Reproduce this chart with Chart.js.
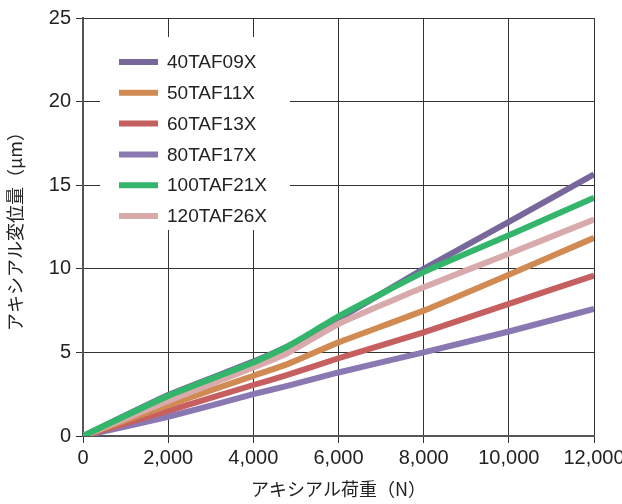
<!DOCTYPE html>
<html>
<head>
<meta charset="utf-8">
<script src="https://cdn.jsdelivr.net/npm/chart.js@4/dist/chart.umd.min.js"></script>
<style>
  html, body { margin: 0; padding: 0; background: #fff; }
  canvas { display: block; }
</style>
</head>
<body>
<canvas id="chart" width="622" height="504"></canvas>
<script>
// axial load (N)
const loads = [0, 2000, 4000, 4800, 6000, 8000, 10000, 12000];
// axial displacement (um) per bearing
const s40TAF09X = [0, 2.45, 4.45, 5.35, 7.0, 10.0, 12.8, 15.65];
const s50TAF11X = [0, 1.85, 3.6, 4.3, 5.6, 7.5, 9.65, 11.85];
const s60TAF13X = [0, 1.5, 3.05, 3.65, 4.65, 6.2, 7.9, 9.6];
const s80TAF17X = [0, 1.15, 2.5, 3.0, 3.8, 5.0, 6.25, 7.6];
const s100TAF21X = [0, 2.4, 4.4, 5.35, 7.15, 9.8, 12.0, 14.25];
const s120TAF26X = [0, 2.1, 4.1, 4.95, 6.7, 8.9, 10.9, 12.95];

const seriesNames = ['40TAF09X', '50TAF11X', '60TAF13X', '80TAF17X', '100TAF21X', '120TAF26X'];
const seriesValues = [s40TAF09X, s50TAF11X, s60TAF13X, s80TAF17X, s100TAF21X, s120TAF26X];
const seriesColors = ['#77679b', '#d18a52', '#c66060', '#8a78b2', '#33b66b', '#d9aaab'];
const drawOrder = [2, 3, 4, 5, 0, 1]; // green and pink on top

const xTitle = 'アキシアル荷重（N）';
const yTitle = 'アキシアル変位量（μm）';

const tickFont = { family: "'Liberation Sans Narrow', 'Liberation Sans', Arial, sans-serif", size: 20 };
const jpFont = { family: "'Noto Sans CJK JP', sans-serif", size: 18 };

// legend drawn inside the plot, on a white box
const boxLegend = {
  id: 'boxLegend',
  beforeDatasetsDraw(chart) {
    const ctx = chart.ctx;
    ctx.save();
    ctx.fillStyle = '#fff';
    ctx.fillRect(100, 37, 190, 193);
    chart.data.datasets.forEach((ds, i) => {
      const y = 62 + i * 30.8;
      ctx.strokeStyle = ds.borderColor;
      ctx.lineWidth = 6;
      ctx.beginPath();
      ctx.moveTo(119, y);
      ctx.lineTo(158, y);
      ctx.stroke();
      ctx.fillStyle = '#222';
      ctx.font = "19px 'Liberation Sans', Arial, sans-serif";
      ctx.textBaseline = 'middle';
      ctx.fillText(ds.label, 167, y + 1);
    });
    ctx.restore();
  }
};

new Chart(document.getElementById('chart'), {
  type: 'line',
  data: {
    datasets: seriesNames.map((name, i) => ({
      label: name,
      data: loads.map((x, j) => ({ x: x, y: seriesValues[i][j] })),
      borderColor: seriesColors[i],
      backgroundColor: seriesColors[i],
      borderWidth: 6,
      pointRadius: 0,
      tension: 0.15,
      borderJoinStyle: 'round',
      order: drawOrder[i]
    }))
  },
  options: {
    responsive: false,
    animation: false,
    devicePixelRatio: 1,
    layout: { padding: { top: 18, right: 0, left: 0, bottom: 0 } },
    plugins: {
      legend: { display: false },
      tooltip: { enabled: false }
    },
    scales: {
      x: {
        type: 'linear',
        min: 0,
        max: 12000,
        ticks: { stepSize: 2000, color: '#222', font: tickFont, padding: 3, maxRotation: 0 },
        grid: { color: '#333', lineWidth: 1, tickLength: 7 },
        border: { color: '#555', width: 2 },
        title: { display: true, text: xTitle, color: '#222', font: jpFont, padding: { top: 8 } },
        afterFit(scale) {
          scale.height = 68;
          scale.paddingRight = 28;
        }
      },
      y: {
        min: 0,
        max: 25,
        ticks: { stepSize: 5, color: '#222', font: tickFont, padding: 5 },
        grid: { color: '#333', lineWidth: 1, tickLength: 7 },
        border: { color: '#555', width: 2 },
        title: { display: true, text: yTitle, color: '#222', font: jpFont, padding: { bottom: 4 } },
        afterFit(scale) { scale.width = 83; }
      }
    }
  },
  plugins: [boxLegend]
});
</script>
</body>
</html>
